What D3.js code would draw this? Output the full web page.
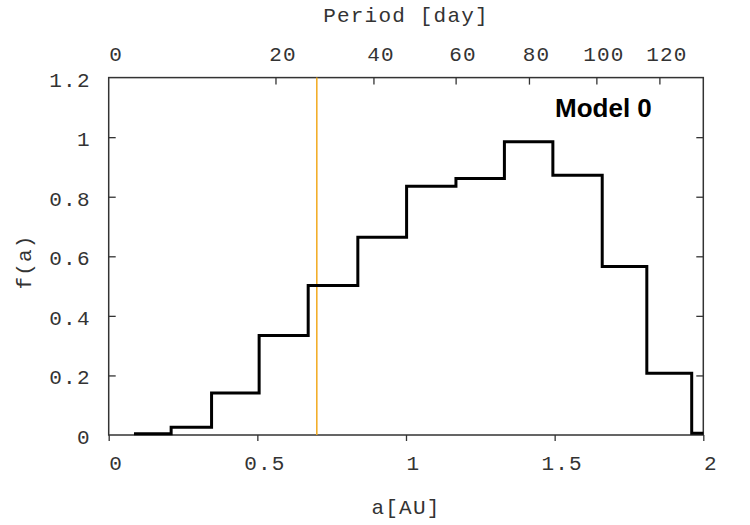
<!DOCTYPE html>
<html>
<head>
<meta charset="utf-8">
<script src="https://cdn.jsdelivr.net/npm/d3@7"></script>
<style>
  html, body { margin: 0; padding: 0; background: #fff; }
  svg { display: block; }
  .tick text, .lbl { font-family: "Liberation Mono", "DejaVu Sans Mono", monospace; font-size: 21px; letter-spacing: 1.2px; fill: #333; }
</style>
</head>
<body>
<svg id="chart" width="750" height="525"></svg>
<script>
// ---- data ----
const binEdges = [0.085, 0.21, 0.346, 0.506, 0.671, 0.838, 1.002, 1.168, 1.331, 1.494, 1.66, 1.81, 1.961, 2.0];
const binValues = [0.004, 0.026, 0.141, 0.334, 0.502, 0.664, 0.835, 0.861, 0.985, 0.872, 0.566, 0.207, 0.006];
const xTicks = [0, 0.5, 1, 1.5, 2];
const yTicks = [0, 0.2, 0.4, 0.6, 0.8, 1, 1.2];
const periodTicks = [0, 20, 40, 60, 80, 100, 120];
const periodConst = 47.6;           // P[day] = periodConst * a^1.5
const markerA = [0.7];
const modelLabel = "Model 0";

// ---- layout ----
const L = 108.7, R = 703.3, T = 77.6, B = 435;
const svg = d3.select("#chart");

const x = d3.scaleLinear().domain([0, 2]).range([L, R]);
const y = d3.scaleLinear().domain([0, 1.2]).range([B, T]);
const xP = d3.scalePow().exponent(2 / 3).domain([0, periodConst * Math.pow(2, 1.5)]).range([L, R]);

const fmt = d => (d === 0 ? "0" : String(d));

// frame
svg.append("rect").attr("x", L).attr("y", T).attr("width", R - L).attr("height", B - T)
  .attr("fill", "none").attr("stroke", "#333").attr("stroke-width", 1.5);

// bottom axis (ticks outward)
const gx = svg.append("g").attr("transform", `translate(0,${B})`)
  .call(d3.axisBottom(x).tickValues(xTicks).tickFormat(fmt).tickSize(6).tickPadding(18));
// left axis (inward ticks)
const gy = svg.append("g").attr("transform", `translate(${L},0)`)
  .call(d3.axisLeft(y).tickValues(yTicks).tickFormat(fmt).tickSize(-7).tickPadding(18));
// right axis ticks (inward)
const gr = svg.append("g").attr("transform", `translate(${R},0)`)
  .call(d3.axisRight(y).tickValues(yTicks).tickFormat("").tickSize(-7));
// top axis (period)
const gt = svg.append("g").attr("transform", `translate(0,${T})`)
  .call(d3.axisTop(xP).tickValues(periodTicks).tickFormat(fmt).tickSize(-7).tickPadding(20));

[gx, gy, gr, gt].forEach(g => {
  g.select(".domain").remove();
  g.selectAll(".tick line").attr("stroke", "#333").attr("stroke-width", 1.3);
});
gx.selectAll(".tick text").attr("dx", 7).attr("dy", "0.5em");
gt.selectAll(".tick text").attr("dx", 7).attr("dy", "0.15em");
gy.selectAll(".tick text").attr("dy", "0.4em");
gy.selectAll(".tick line").filter(d => d === 0 || d === 1.2).remove();
gr.selectAll(".tick line").filter(d => d === 0 || d === 1.2).remove();
gt.selectAll(".tick line").filter(d => d === 0).remove();

// marker line
svg.selectAll(".marker").data(markerA).enter().append("line")
  .attr("x1", d => x(d)).attr("x2", d => x(d)).attr("y1", T).attr("y2", B)
  .attr("stroke", "#f2a91e").attr("stroke-width", 1.5);

// histogram steps
const pts = binEdges.map((e, i) => [e, i < binValues.length ? binValues[i] : binValues[binValues.length - 1]]);
svg.append("path").datum(pts)
  .attr("d", d3.line().x(d => x(d[0])).y(d => y(d[1])).curve(d3.curveStepAfter))
  .attr("fill", "none").attr("stroke", "#000").attr("stroke-width", 3).attr("stroke-linejoin", "miter");

// labels
svg.append("text").attr("class", "lbl").attr("x", (L + R) / 2).attr("y", 514)
  .attr("text-anchor", "middle").text("a[AU]");
svg.append("text").attr("class", "lbl").attr("x", (L + R) / 2).attr("y", 22)
  .attr("text-anchor", "middle").text("Period [day]");
svg.append("text").attr("class", "lbl").attr("transform", `translate(31,262) rotate(-90)`)
  .attr("text-anchor", "middle").text("f(a)");
svg.append("text").attr("x", 555).attr("y", 117)
  .style("font-family", "'Liberation Sans', Arial, sans-serif").style("font-weight", "bold")
  .style("font-size", "26px").attr("fill", "#000").text(modelLabel);
</script>
</body>
</html>
